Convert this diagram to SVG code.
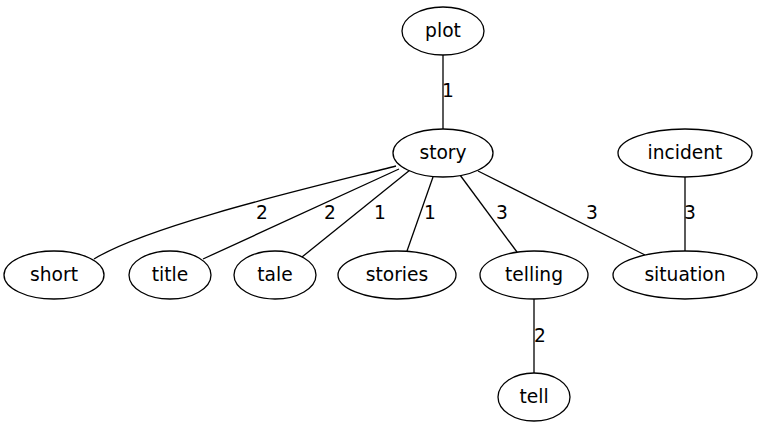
<svg xmlns="http://www.w3.org/2000/svg" width="763" height="429" viewBox="0 0 763 429">
<style>
.n ellipse{fill:#fff;stroke:#000;stroke-width:1.3}
.n text,.lbl{font-family:"DejaVu Sans",sans-serif;font-size:18.67px;fill:#000}
.n text{text-anchor:middle}
.lbl{text-anchor:middle}
.e{fill:none;stroke:#000;stroke-width:1.3}
</style>
<rect width="763" height="429" fill="#fff"/>
<g id="edges">
<path class="e" d="M443,55 L443,129"/>
<path class="e" d="M396,166 C330,183 150,224 94,259"/>
<path class="e" d="M399,169 L203,259"/>
<path class="e" d="M410,170 L302,257"/>
<path class="e" d="M433,177 L407,251"/>
<path class="e" d="M460,175 L517,252"/>
<path class="e" d="M478,171 L645,255"/>
<path class="e" d="M685,177 L685,251"/>
<path class="e" d="M534,299 L534,373"/>
<text class="lbl" x="448" y="97">1</text>
<text class="lbl" x="262" y="219">2</text>
<text class="lbl" x="330" y="219">2</text>
<text class="lbl" x="380" y="219">1</text>
<text class="lbl" x="430" y="219">1</text>
<text class="lbl" x="502" y="219">3</text>
<text class="lbl" x="592" y="219">3</text>
<text class="lbl" x="690" y="219">3</text>
<text class="lbl" x="540" y="342">2</text>
</g>
<g id="plot" class="n"><ellipse cx="443" cy="31" rx="41" ry="24"/><text x="443" y="37">plot</text></g>
<g id="story" class="n"><ellipse cx="443" cy="153" rx="50" ry="24"/><text x="443" y="159">story</text></g>
<g id="incident" class="n"><ellipse cx="685" cy="153" rx="67" ry="24"/><text x="685" y="159">incident</text></g>
<g id="short" class="n"><ellipse cx="54" cy="275" rx="50" ry="24"/><text x="54" y="281">short</text></g>
<g id="title" class="n"><ellipse cx="170" cy="275" rx="41" ry="24"/><text x="170" y="281">title</text></g>
<g id="tale" class="n"><ellipse cx="275" cy="275" rx="41" ry="24"/><text x="275" y="281">tale</text></g>
<g id="stories" class="n"><ellipse cx="397" cy="275" rx="59" ry="24"/><text x="397" y="281">stories</text></g>
<g id="telling" class="n"><ellipse cx="534" cy="275" rx="54" ry="24"/><text x="534" y="281">telling</text></g>
<g id="situation" class="n"><ellipse cx="685" cy="275" rx="72" ry="24"/><text x="685" y="281">situation</text></g>
<g id="tell" class="n"><ellipse cx="534" cy="397" rx="36" ry="24"/><text x="534" y="403">tell</text></g>
</svg>
